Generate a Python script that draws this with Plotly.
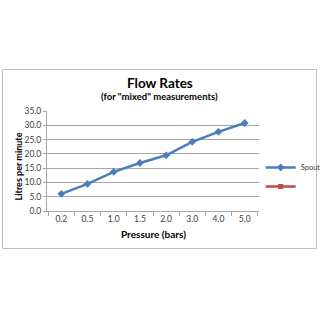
import plotly.graph_objects as go

pressures = ["0.2", "0.5", "1.0", "1.5", "2.0", "3.0", "4.0", "5.0"]
spout = [6.0, 9.5, 13.7, 16.8, 19.5, 24.2, 27.7, 30.8]
y_ticks = [0, 5, 10, 15, 20, 25, 30, 35]

L, R, T, B = 46.7, 259.3, 111.3, 210.7
W, H = R - L, B - T
def px(x): return (x - L) / W
def py(y): return (B - y) / H

FONT = "Lato, Open Sans, sans-serif"
fig = go.Figure()
fig.add_trace(go.Scatter(x=pressures, y=spout, name="Spout", mode="lines+markers",
                         line=dict(color="#4A7EBB", width=2.5),
                         marker=dict(symbol="diamond", size=6, color="#4A7EBB")))
fig.add_trace(go.Scatter(x=[None], y=[None], name=" ", mode="lines+markers",
                         line=dict(color="#BE4B48", width=2.5),
                         marker=dict(symbol="square", size=5, color="#BE4B48")))

fig.update_layout(
    width=320, height=320,
    margin=dict(l=L, r=320 - R, t=T, b=320 - B, autoexpand=False),
    paper_bgcolor="white", plot_bgcolor="white",
    font=dict(family=FONT, size=9, color="#404040"),
    showlegend=True,
    legend=dict(x=px(261), y=py(153), xanchor="left", yanchor="top",
                font=dict(size=7.5, color="#404040"), itemwidth=30,
                tracegroupgap=0, bgcolor="rgba(0,0,0,0)"),
    xaxis=dict(type="category", showgrid=False, showline=True, linecolor="#A6A6A6",
               ticks="outside", tickson="boundaries", ticklen=4, tickcolor="#A6A6A6",
               tickfont=dict(size=8.5, color="#404040")),
    yaxis=dict(range=[0, 35], tickvals=y_ticks, tickformat=".1f",
               showgrid=True, gridcolor="#A6A6A6", gridwidth=1,
               showline=True, linecolor="#A6A6A6", ticks="outside", ticklen=3,
               tickcolor="#A6A6A6", zeroline=False,
               tickfont=dict(size=8.5, color="#404040")),
)
fig.add_annotation(text="<b>Flow Rates</b>", x=px(160), y=py(83), xref="paper", yref="paper",
                   yanchor="middle", showarrow=False, font=dict(size=13.5, color="black", family=FONT))
fig.add_annotation(text="<b>(for \"mixed\" measurements)</b>", x=px(160), y=py(97),
                   xref="paper", yref="paper", yanchor="middle", showarrow=False,
                   font=dict(size=9.5, color="black", family=FONT))
fig.add_annotation(text="<b>Pressure (bars)</b>", x=px(153), y=py(234), xref="paper", yref="paper",
                   yanchor="middle", showarrow=False, font=dict(size=10, color="black", family=FONT))
fig.add_annotation(text="<b>Litres per minute</b>", x=px(18), y=py(166), xref="paper", yref="paper",
                   xanchor="center", yanchor="middle", showarrow=False, textangle=-90,
                   font=dict(size=9, color="black", family=FONT))
fig.add_shape(type="rect", xref="paper", yref="paper", x0=px(2), x1=px(317), y0=py(248), y1=py(70),
              line=dict(color="#BFBFBF", width=1))
fig.write_html("out.html")
